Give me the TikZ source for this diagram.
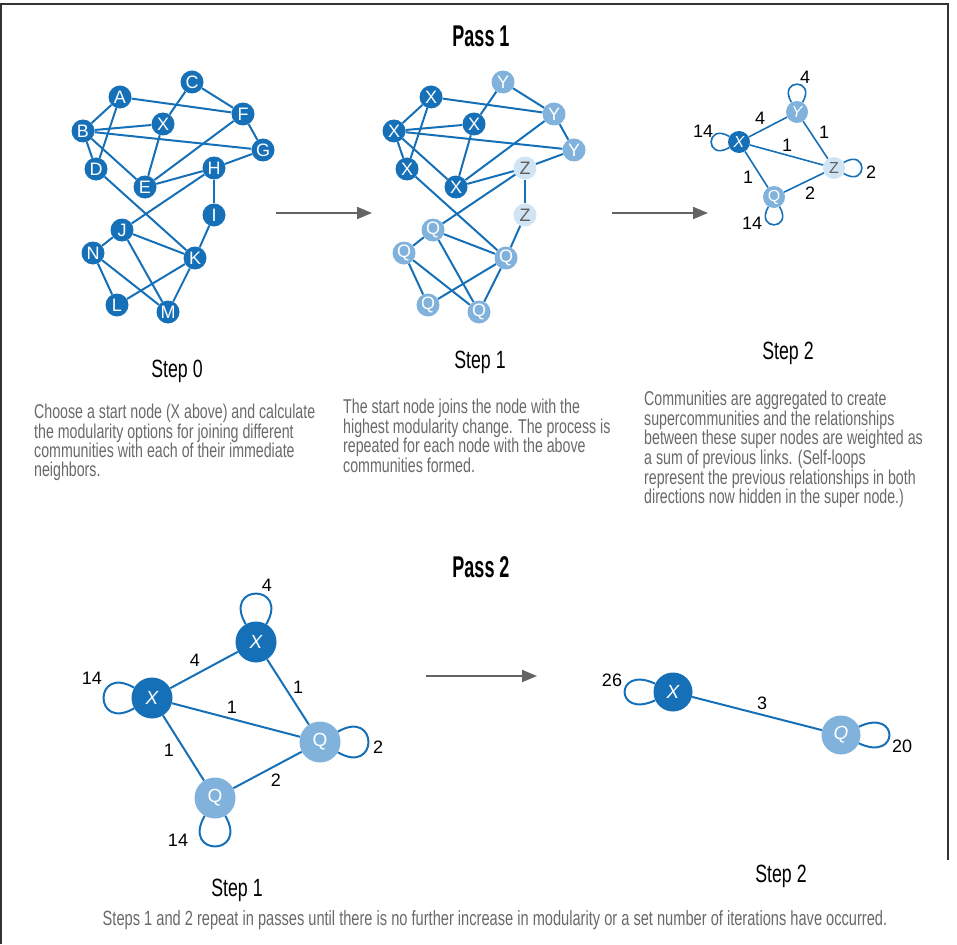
\documentclass[tikz,border=0pt]{standalone}
\usepackage{fontspec}
\setmainfont[FakeStretch=0.71]{Liberation Sans}
\newfontfamily\passfont[FakeStretch=0.6]{Liberation Sans}
\newfontfamily\numfont{Liberation Sans}
\usepackage{tikz}
\usetikzlibrary{arrows.meta}
\definecolor{xblue}{RGB}{22,112,184}
\definecolor{qblue}{RGB}{128,178,220}
\definecolor{zblue}{RGB}{208,228,243}
\definecolor{zgray}{RGB}{95,95,95}
\definecolor{txtgray}{RGB}{105,105,105}
\definecolor{arrgray}{RGB}{100,100,100}
\tikzset{
  vtx/.style={circle,draw=none,inner sep=0pt,minimum size=23pt,text=white,font=\numfont\fontsize{18}{18}\selectfont},
  vx/.style={vtx,fill=xblue}, vq/.style={vtx,fill=qblue}, vz/.style={vtx,fill=zblue,text=zgray},
  edge/.style={draw=xblue,line width=2pt},
  thinedge/.style={draw=xblue,line width=1.6pt},
  num/.style={font=\numfont\fontsize{18}{18}\selectfont,text=black,inner sep=0pt},
  stepname/.style={font=\fontsize{25}{25}\selectfont},
  desc/.style={font=\fontsize{20}{18.3}\selectfont,text=txtgray,align=left,anchor=north west,inner sep=0pt},
  passname/.style={font=\passfont\bfseries\fontsize{30}{30}\selectfont},
  next/.style={draw=arrgray,line width=2pt,-{Triangle[length=15pt,width=12pt]}}
}
\begin{document}
\begin{tikzpicture}[x=1pt,y=1pt]
  \useasboundingbox (0,0) rectangle (957,-944);
  \draw[line width=1.2pt,color=black!80] (1,-944) -- (1,-4) -- (948,-4) -- (948,-860);

  \node[passname] (pass1) at (481,-36) {Pass 1};

  % step 0
  \foreach \n/\x/\y in {A/120/97,C/192/82,F/243/114,B/83/131,X/163/124,G/263/150,D/96/169,H/214/168,E/145/187,I/214/215,J/122/230,N/93/253,K/195/258,L/117/305,M/168/312}
    \node[vx] (s0\n) at (\x,-\y) {\n};
  % step 1
  \foreach \n/\x/\y/\c/\s in {A/120/97/X/vx,C/192/82/Y/vq,F/243/114/Y/vq,B/83/131/X/vx,X/163/124/X/vx,G/263/150/Y/vq,D/96/169/X/vx,H/214/168/Z/vz,E/145/187/X/vx,I/214/215/Z/vz,J/122/230/Q/vq,N/93/253/Q/vq,K/195/258/Q/vq,L/117/305/Q/vq,M/168/312/Q/vq}
    \node[\s] (s1\n) at (\x+311,-\y) {\c};
  \foreach \a/\b in {A/B,A/D,A/F,B/X,B/G,B/D,B/E,C/X,C/F,X/E,F/G,F/E,G/H,H/E,H/J,H/I,I/K,D/K,J/N,J/K,J/M,N/L,N/M,L/K,K/M}{
    \draw[edge] (s0\a) -- (s0\b); \draw[edge] (s1\a) -- (s1\b);}

  \coordinate (a1s) at (276,-213); \coordinate (a1e) at (372,-213);
  \coordinate (a2s) at (612,-213); \coordinate (a2e) at (708,-213);
  \draw[next] (a1s) -- (a1e); \draw[next] (a2s) -- (a2e);

  % step 2
  \node[vx,minimum size=22pt,font=\numfont\fontsize{16}{16}\selectfont] (t2X) at (739,-142) {\itshape X};
  \node[vq,minimum size=22pt,font=\numfont\fontsize{16}{16}\selectfont] (t2Y) at (797,-112) {\itshape Y};
  \node[vz,minimum size=22pt,font=\numfont\fontsize{16}{16}\selectfont] (t2Z) at (834,-168) {Z};
  \node[vq,minimum size=22pt,font=\numfont\fontsize{16}{16}\selectfont] (t2Q) at (774,-197) {Q};
  \draw[thinedge] (t2X) -- (t2Y); \draw[thinedge] (t2X) -- (t2Z); \draw[thinedge] (t2X) -- (t2Q); \draw[thinedge] (t2Y) -- (t2Z); \draw[thinedge] (t2Z) -- (t2Q);
  \draw[thinedge] (t2Y) to[out=60,in=120,distance=28pt] (t2Y); \draw[thinedge] (t2X) to[out=150,in=210,distance=28pt] (t2X);
  \draw[thinedge] (t2Z) to[out=30,in=-30,distance=28pt] (t2Z); \draw[thinedge] (t2Q) to[out=-60,in=-120,distance=28pt] (t2Q);
  \node[num] (w1) at (805,-77) {4}; \node[num] (w2) at (703,-131) {14}; \node[num] (w3) at (760,-118) {4};
  \node[num] (w4) at (824,-132) {1}; \node[num] (w5) at (787,-145) {1}; \node[num] (w6) at (871,-172) {2};
  \node[num] (w7) at (748,-177) {1}; \node[num] (w8) at (810,-193) {2}; \node[num] (w9) at (752,-223) {14};

  \node[stepname] (st0) at (177,-371) {Step 0};
  \node[stepname] (st1) at (480,-362) {Step 1};
  \node[stepname] (st2) at (788,-353) {Step 2};
  \node[desc] (d0) at (34,-404) {Choose a start node (X above) and calculate\\the modularity options for joining different\\communities with each of their immediate\\neighbors.};
  \node[desc] (d1) at (343,-399) {The start node joins the node with the\\highest modularity change. The process is\\repeated for each node with the above\\communities formed.};
  \node[desc] (d2) at (644,-391) {Communities are aggregated to create\\supercommunities and the relationships\\between these super nodes are weighted as\\a sum of previous links. (Self-loops\\represent the previous relationships in both\\directions now hidden in the super node.)};

  % pass 2
  \node[passname] (pass2) at (481,-567) {Pass 2};
  \node[vx,minimum size=41pt,font=\numfont\fontsize{19}{19}\selectfont\itshape] (p1Xa) at (256,-642) {X};
  \node[vx,minimum size=41pt,font=\numfont\fontsize{19}{19}\selectfont\itshape] (p1Xb) at (152,-698) {X};
  \node[vq,minimum size=41pt,font=\numfont\fontsize{19}{19}\selectfont] (p1Qa) at (320,-742) {Q};
  \node[vq,minimum size=41pt,font=\numfont\fontsize{19}{19}\selectfont] (p1Qb) at (215,-798) {Q};
  \draw[edge] (p1Xb) -- (p1Xa); \draw[edge] (p1Xb) -- (p1Qa); \draw[edge] (p1Xb) -- (p1Qb); \draw[edge] (p1Xa) -- (p1Qa); \draw[edge] (p1Qa) -- (p1Qb);
  \draw[edge] (p1Xa) to[out=60,in=120,distance=47pt] (p1Xa); \draw[edge] (p1Xb) to[out=150,in=210,distance=47pt] (p1Xb);
  \draw[edge] (p1Qa) to[out=30,in=-30,distance=47pt] (p1Qa); \draw[edge] (p1Qb) to[out=-60,in=-120,distance=47pt] (p1Qb);
  \node[num] (u1) at (267,-585) {4}; \node[num] (u2) at (92,-678) {14}; \node[num] (u3) at (195,-660) {4};
  \node[num] (u4) at (298,-687) {1}; \node[num] (u5) at (232,-707) {1}; \node[num] (u6) at (378,-747) {2};
  \node[num] (u7) at (169,-750) {1}; \node[num] (u8) at (276,-780) {2}; \node[num] (u9) at (178,-840) {14};

  \coordinate (a3s) at (426,-676); \coordinate (a3e) at (537,-676);
  \draw[next] (a3s) -- (a3e);

  \node[vx,minimum size=39pt,font=\numfont\fontsize{19}{19}\selectfont\itshape] (p2X) at (673,-692) {X};
  \node[vq,minimum size=39pt,font=\numfont\fontsize{19}{19}\selectfont\itshape] (p2Q) at (841,-735) {Q};
  \draw[edge] (p2X) -- (p2Q);
  \draw[edge] (p2X) to[out=155,in=205,distance=45pt] (p2X); \draw[edge] (p2Q) to[out=25,in=-25,distance=45pt] (p2Q);
  \node[num] (v1) at (612,-680) {26}; \node[num] (v2) at (762,-703) {3}; \node[num] (v3) at (902,-746) {20};

  \node[stepname] (pst1) at (237,-890) {Step 1};
  \node[stepname] (pst2) at (781,-876) {Step 2};
  \node[font=\fontsize{20.6}{20}\selectfont,text=txtgray] (note) at (495,-920) {Steps 1 and 2 repeat in passes until there is no further increase in modularity or a set number of iterations have occurred.};
\end{tikzpicture}
\end{document}
